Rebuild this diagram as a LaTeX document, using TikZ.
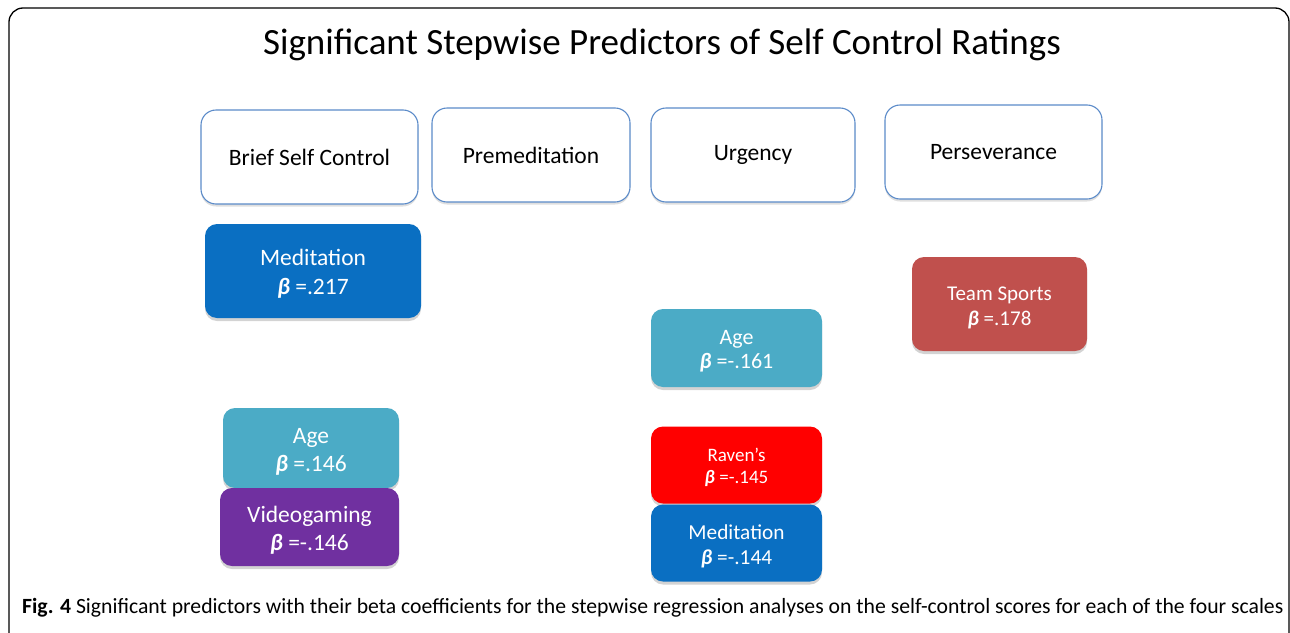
\documentclass[tikz,border=0pt]{standalone}
\usepackage{fontspec}
\setmainfont{Carlito}
\usetikzlibrary{shadows}
\definecolor{hdrline}{HTML}{5B8BC9}
\definecolor{medblue}{HTML}{0A6FC2}
\definecolor{teal}{HTML}{4BABC6}
\definecolor{purp}{HTML}{7030A0}
\definecolor{brick}{HTML}{C0504D}
\definecolor{ravred}{HTML}{FF0000}
\newcommand{\bet}{\textbf{\textit{β}}}
% two centred lines, lowered a little inside the box without changing its size
\newcommand{\twolines}[2]{\raisebox{-3.5pt}[\height][\depth]{\begin{tabular}{@{}c@{}}#1\\#2\end{tabular}}}
\tikzset{
  hdr/.style={draw=hdrline, line width=1.1pt, fill=white, rounded corners=15pt,
    minimum width=#1, minimum height=94pt, inner sep=0pt, font=\fontsize{23.5}{28}\selectfont,
    drop shadow={opacity=0.25, shadow xshift=0pt, shadow yshift=-2.5pt}},
  pred/.style={fill=#1, draw=none, rounded corners=12pt, text=white,
    inner sep=0pt, drop shadow={opacity=0.35, shadow xshift=0pt, shadow yshift=-3pt}},
}
\begin{document}
\begin{tikzpicture}[x=1pt,y=-1pt]
\useasboundingbox (0,0) rectangle (1290,632);
% outer frame
\draw[line width=1.3pt, rounded corners=14pt] (9,640) -- (9,8) -- (1289,8) -- (1289,640);
% title
\node (title) at (662,45) {\fontsize{37}{42}\selectfont Significant Stepwise Predictors of Self Control Ratings};
% scale headers
\node[hdr=217pt] (bsc) at (309.5,157) {Brief Self Control};
\node[hdr=198pt] (pre) at (531,155) {Premeditation};
\node[hdr=204pt] (urg) at (753,155) {Urgency};
\node[hdr=217pt] (per) at (993.5,152) {Perseverance};
% Brief Self Control predictors
\node[pred=medblue, minimum width=216pt, minimum height=94pt, font=\fontsize{23.5}{29}\selectfont] (med1) at (313,271) {\twolines{Meditation}{\bet{} =.217}};
\node[pred=teal, minimum width=176pt, minimum height=80pt, font=\fontsize{23.5}{28}\selectfont] (age1) at (311,448) {\twolines{Age}{\bet{} =.146}};
\node[pred=purp, minimum width=179pt, minimum height=78pt, font=\fontsize{23.5}{28}\selectfont] (vid) at (309.5,527) {\twolines{Videogaming}{\bet{} =-.146}};
% Urgency predictors
\node[pred=teal, minimum width=171pt, minimum height=78pt, font=\fontsize{22}{24}\selectfont] (age2) at (736.5,348) {\twolines{Age}{\bet{} =-.161}};
\node[pred=ravred, minimum width=171pt, minimum height=77pt, font=\fontsize{19}{22}\selectfont] (rav) at (736.5,465) {\twolines{Raven’s}{\bet{} =-.145}};
\node[pred=medblue, minimum width=171pt, minimum height=77pt, font=\fontsize{21.3}{25}\selectfont] (med2) at (736.5,543) {\twolines{Meditation}{\bet{} =-.144}};
% Perseverance predictor
\node[pred=brick, minimum width=175pt, minimum height=94pt, font=\fontsize{21}{25}\selectfont] (team) at (999.5,304) {\twolines{Team Sports}{\bet{} =.178}};
% caption
\node[anchor=west, inner sep=0pt] (cap) at (22,608) {\fontsize{21.7}{24}\selectfont\textbf{Fig. 4} Significant predictors with their beta coefficients for the stepwise regression analyses on the self-control scores for each of the four scales};
\end{tikzpicture}
\end{document}
